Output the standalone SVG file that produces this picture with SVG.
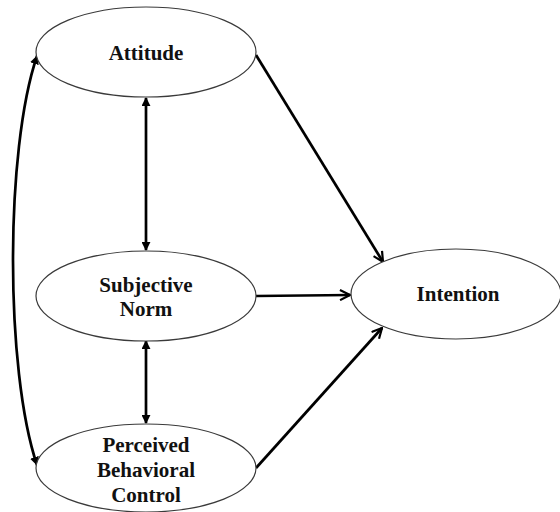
<svg xmlns="http://www.w3.org/2000/svg" width="560" height="512" viewBox="0 0 560 512">
  <style>
    .node ellipse { fill: #ffffff; stroke: #3a3a3a; stroke-width: 1.2; }
    .node text { font-family: "Liberation Serif", "Times New Roman", serif; font-weight: bold; font-size: 21px; fill: #111111; text-anchor: middle; }
    .edge { fill: none; stroke: #000000; stroke-width: 2.7; }
  </style>
  <defs>
    <marker id="head" viewBox="0 0 12 12" refX="11" refY="6" markerWidth="12" markerHeight="12" markerUnits="userSpaceOnUse" orient="auto-start-reverse">
      <path d="M1,1 L11,6 L1,11" fill="none" stroke="#000" stroke-width="2.2"/>
    </marker>
    <marker id="tri" viewBox="0 0 10 10" refX="9" refY="5" markerWidth="9" markerHeight="9" markerUnits="userSpaceOnUse" orient="auto-start-reverse">
      <path d="M0,0 L10,5 L0,10 Z" fill="#000"/>
    </marker>
  </defs>

  <g id="connectors">
    <!-- paths into Intention -->
    <line class="edge" x1="256" y1="55" x2="383" y2="262" marker-end="url(#head)"/>
    <line class="edge" x1="256" y1="296" x2="350" y2="295" marker-end="url(#head)"/>
    <line class="edge" x1="256" y1="468" x2="382" y2="328" marker-end="url(#head)"/>
    <!-- correlations -->
    <line class="edge" x1="146" y1="98" x2="146" y2="250" marker-start="url(#tri)" marker-end="url(#tri)"/>
    <line class="edge" x1="146" y1="341" x2="146" y2="423" marker-start="url(#tri)" marker-end="url(#tri)"/>
    <path class="edge" d="M37,56 C5,150 5,370 37,465" marker-start="url(#tri)" marker-end="url(#tri)"/>
  </g>

  <g id="attitude" class="node">
    <ellipse cx="146" cy="52" rx="110" ry="45"/>
    <text x="146" y="60">Attitude</text>
  </g>

  <g id="subjective-norm" class="node">
    <ellipse cx="146" cy="296" rx="110" ry="45"/>
    <text x="146" y="292">Subjective</text>
    <text x="146" y="316">Norm</text>
  </g>

  <g id="perceived-behavioral-control" class="node">
    <ellipse cx="146" cy="468" rx="110" ry="44"/>
    <text x="146" y="452">Perceived</text>
    <text x="146" y="477">Behavioral</text>
    <text x="146" y="502">Control</text>
  </g>

  <g id="intention" class="node">
    <ellipse cx="456" cy="294" rx="105" ry="45"/>
    <text x="458" y="301">Intention</text>
  </g>
</svg>
